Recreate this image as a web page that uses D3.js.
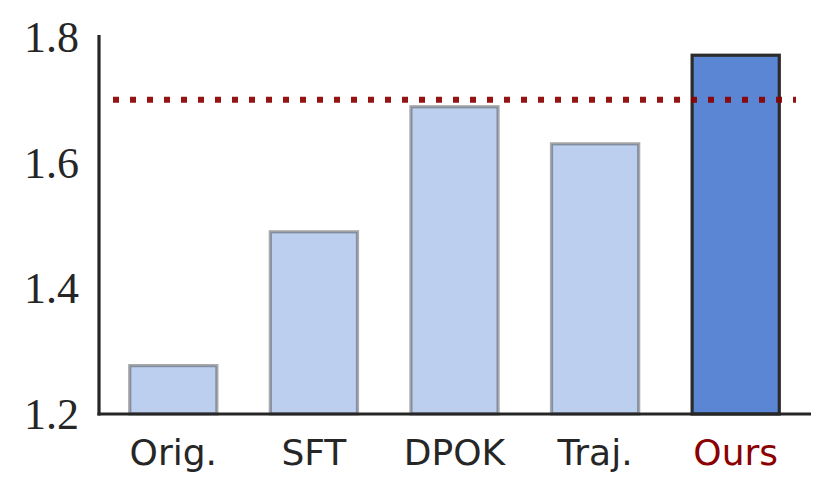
<!DOCTYPE html>
<html>
<head>
<meta charset="utf-8">
<script src="https://cdn.jsdelivr.net/npm/d3@7"></script>
<style>
  body { margin: 0; background: #fff; }
  svg { display: block; }
</style>
</head>
<body>
<div class="bar-chart-container"></div>
<script>
// Data
const methods = ['Orig.', 'SFT', 'DPOK', 'Traj.', 'Ours'];
const scores = [1.277, 1.490, 1.689, 1.630, 1.771];
const refValue = 1.70;          // dotted reference line
const yTicks = [1.2, 1.4, 1.6, 1.8];
const highlight = 'Ours';

// Canvas
const svg_width = 831;
const svg_height = 498;

const svg = d3.select('.bar-chart-container').append('svg')
    .attr('width', svg_width).attr('height', svg_height);

// scales
const xScale = d3.scaleBand()
    .domain(methods)
    .range([103, 806])
    .paddingInner(0.38)
    .paddingOuter(0.19);

const yScale = d3.scaleLinear()
    .domain([1.2, 1.8])
    .range([414, 37]);

const barColor = '#5a86d4';
const edgeColor = '#2b2b2b';

// bars
svg.selectAll('.bar').data(methods).enter()
    .append('rect').attr('class', 'bar')
    .attr('x', d => xScale(d))
    .attr('width', xScale.bandwidth())
    .attr('y', (d, i) => yScale(scores[i]))
    .attr('height', (d, i) => yScale(1.2) - yScale(scores[i]))
    .style('fill', barColor)
    .style('fill-opacity', d => d === highlight ? 1 : 0.4)
    .style('stroke', edgeColor)
    .style('stroke-opacity', d => d === highlight ? 1 : 0.4)
    .style('stroke-width', 3.2);

// reference line (dotted)
const xr = xScale.range();
svg.append('line')
    .attr('x1', xr[0] + 10).attr('x2', xr[1] - 10)
    .attr('y1', yScale(refValue)).attr('y2', yScale(refValue))
    .style('stroke', '#8b0000')
    .style('stroke-opacity', 0.92)
    .style('stroke-width', 6)
    .style('stroke-dasharray', '6,11');

// axes
const yAxis = d3.axisLeft(yScale)
    .tickValues(yTicks)
    .tickFormat(d3.format('.1f'))
    .tickSize(0)
    .tickPadding(20);
const yAxisDraw = svg.append('g')
    .attr('class', 'y axis')
    .attr('transform', `translate(${xr[0] - 4},0)`)
    .call(yAxis);
yAxisDraw.select('.domain')
    .attr('d', `M0,${yScale(1.2) + 1.5}V${yScale.range()[1] - 2}`)
    .style('stroke', '#262626').style('stroke-width', 3.2);
yAxisDraw.selectAll('text')
    .style('font-family', '"Liberation Serif", "DejaVu Serif", serif')
    .style('font-size', '44px')
    .style('fill', '#262626')
    .attr('dy', '0.33em');

const xAxis = d3.axisBottom(xScale)
    .tickSize(0)
    .tickPadding(0);
const xAxisDraw = svg.append('g')
    .attr('class', 'x axis')
    .attr('transform', `translate(0,${yScale(1.2)})`)
    .call(xAxis);
xAxisDraw.select('.domain')
    .attr('d', `M${xr[0] - 5.5},0H${xr[1] + 5}`)
    .style('stroke', '#262626').style('stroke-width', 3.2);
xAxisDraw.selectAll('text')
    .attr('y', 51).attr('dy', 0)
    .style('font-family', '"DejaVu Sans", sans-serif')
    .style('font-size', '36px')
    .style('fill', d => d === highlight ? '#8b0000' : '#262626');
</script>
</body>
</html>
